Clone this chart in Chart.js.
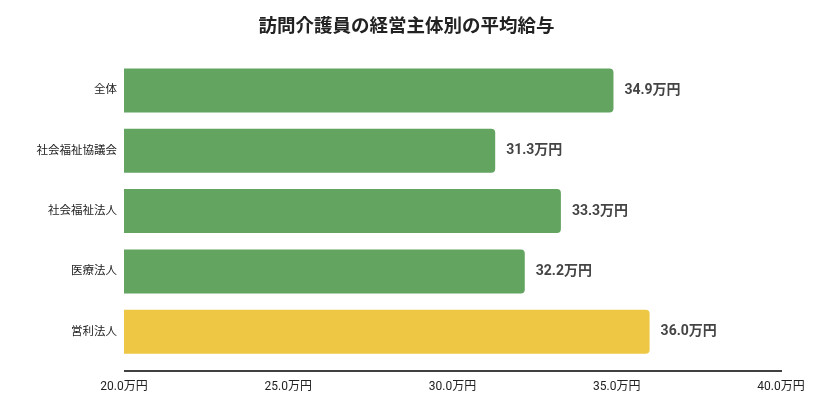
<html>

<head>
    <title>訪問介護員の経営主体別の平均給与</title>
    <script src="https://cdn.jsdelivr.net/npm/chart.js"></script>
    <style>
        body { margin: 0; background: #fff; }
    </style>
</head>

<body>
    <canvas id="salary" width="813" height="410"></canvas>
</body>
<script>
    const categories = ["全体", "社会福祉協議会", "社会福祉法人", "医療法人", "営利法人"]
    const salaries = [34.9, 31.3, 33.3, 32.2, 36.0]
    const barColors = ["#63a461", "#63a461", "#63a461", "#63a461", "#eec844"]
    const xTicks = [20, 25, 30, 35, 40]

    const font = "Roboto, 'Noto Sans CJK JP', sans-serif"

    // value labels right of each bar + baseline below the bars
    const extras = {
        id: "extras",
        afterDatasetsDraw(chart) {
            const ctx = chart.ctx
            const meta = chart.getDatasetMeta(0)
            ctx.save()
            ctx.font = "bold 14px " + font
            ctx.fillStyle = "#444"
            ctx.textBaseline = "middle"
            meta.data.forEach((bar, i) => {
                ctx.fillText(salaries[i].toFixed(1) + "万円", bar.x + 11, bar.y)
            })
            const area = chart.chartArea
            ctx.strokeStyle = "#000"
            ctx.lineWidth = 1.3
            ctx.beginPath()
            ctx.moveTo(area.left, area.bottom + 9)
            ctx.lineTo(area.right + 1, area.bottom + 9)
            ctx.stroke()
            ctx.restore()
        }
    }

    new Chart(document.getElementById("salary"), {
        type: "bar",
        data: {
            labels: categories,
            datasets: [{
                data: salaries,
                backgroundColor: barColors,
                borderRadius: 4,
                borderSkipped: "start",
                barPercentage: 0.81,
                categoryPercentage: 0.9
            }]
        },
        options: {
            indexAxis: "y",
            responsive: false,
            animation: false,
            layout: { padding: 0 },
            plugins: {
                legend: { display: false },
                tooltip: { enabled: false },
                title: {
                    display: true,
                    text: "訪問介護員の経営主体別の平均給与",
                    color: "#222",
                    font: { family: font, size: 18.5, weight: "bold" },
                    padding: { top: 16, bottom: 22 }
                }
            },
            scales: {
                x: {
                    min: 20,
                    max: 40,
                    afterBuildTicks(scale) {
                        scale.ticks = xTicks.map(v => ({ value: v }))
                    },
                    afterFit(scale) {
                        scale.height = 48
                        scale.paddingLeft = 0
                        scale.paddingRight = 32
                    },
                    grid: { display: false, drawTicks: false },
                    border: { display: false },
                    ticks: {
                        padding: 18,
                        color: "#222",
                        font: { family: font, size: 12 },
                        maxRotation: 0,
                        callback: v => v.toFixed(1) + "万円"
                    }
                },
                y: {
                    afterFit(scale) { scale.width = 124 },
                    grid: { display: false, drawTicks: false },
                    border: { display: false },
                    ticks: {
                        padding: 7,
                        color: "#222",
                        font: { family: font, size: 11.5 }
                    }
                }
            }
        },
        plugins: [extras]
    })
</script>

</html>
